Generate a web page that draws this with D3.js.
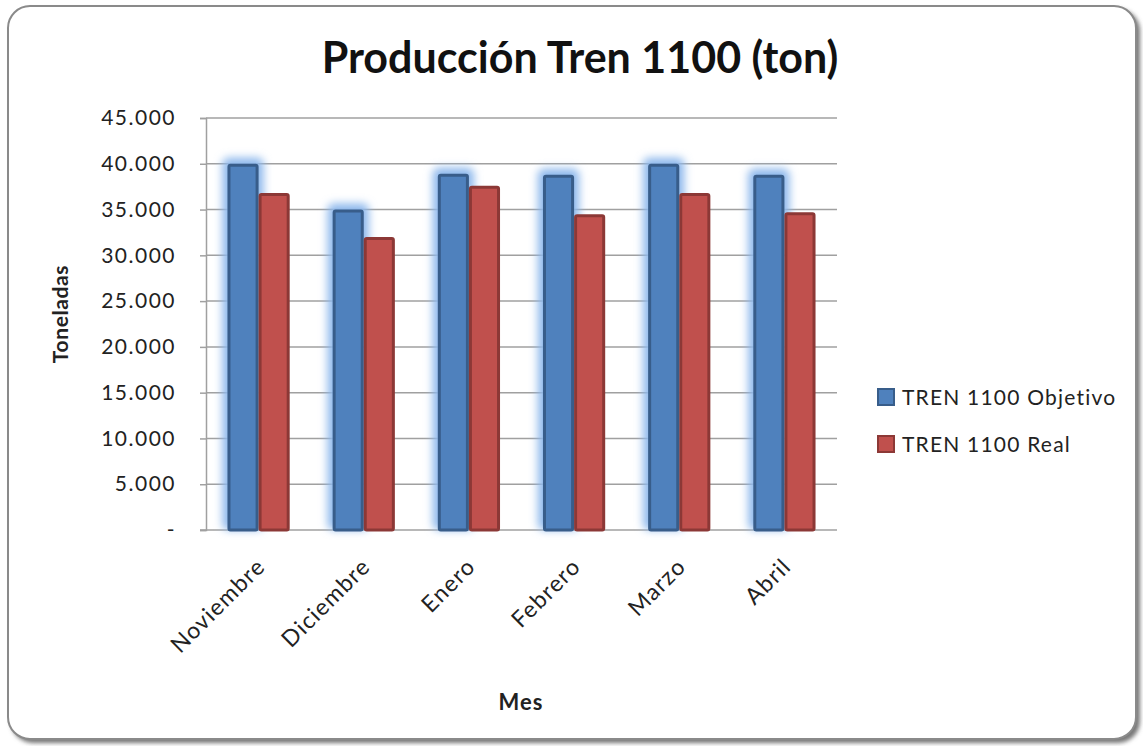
<!DOCTYPE html>
<html>
<head>
<meta charset="utf-8">
<script src="https://cdn.jsdelivr.net/npm/d3@7"></script>
<style>
  body { margin: 0; background: #fff; }
  text { font-family: Lato, "Open Sans", sans-serif; }
</style>
</head>
<body>
<svg id="chart"></svg>
<script>
const months = ["Noviembre", "Diciembre", "Enero", "Febrero", "Marzo", "Abril"];
const objetivo = [40000, 35000, 38900, 38800, 40000, 38800];
const real = [36800, 32000, 37600, 34500, 36800, 34700];
const seriesNames = ["TREN 1100 Objetivo", "TREN 1100 Real"];
const yTicks = [0, 5000, 10000, 15000, 20000, 25000, 30000, 35000, 40000, 45000];

const width = 1143, height = 746;
const plotL = 206, plotR = 837, plotT = 118, plotB = 530;

const svg = d3.select("#chart").attr("width", width).attr("height", height);

const defs = svg.append("defs");
const glow = defs.append("filter").attr("id", "glow")
  .attr("x", "-60%").attr("y", "-20%").attr("width", "220%").attr("height", "140%");
glow.append("feGaussianBlur").attr("stdDeviation", 4.5);
const shadow = defs.append("filter").attr("id", "shadow")
  .attr("x", "-5%").attr("y", "-5%").attr("width", "110%").attr("height", "110%");
shadow.append("feGaussianBlur").attr("stdDeviation", 2);

// chart frame
svg.append("rect")
  .attr("x", 11).attr("y", 9).attr("width", 1129).attr("height", 734)
  .attr("rx", 22).attr("fill", "#777").attr("filter", "url(#shadow)");
svg.append("rect")
  .attr("x", 8).attr("y", 6).attr("width", 1128).attr("height", 733)
  .attr("rx", 22).attr("fill", "#fff").attr("stroke", "#8a8a8a").attr("stroke-width", 2);

const locale = d3.formatLocale({decimal: ",", thousands: ".", grouping: [3], currency: ["", ""]});
const fmt = v => v === 0 ? "-" : locale.format(",")(v);

const x = d3.scaleBand().domain(months).range([plotL, plotR]).paddingInner(0).paddingOuter(0);
const x1 = d3.scaleBand().domain(seriesNames).range([0, x.bandwidth()]).paddingInner(0).paddingOuter(0.69);
const y = d3.scaleLinear().domain([0, 45000]).range([plotB, plotT]);

// gridlines
svg.append("g")
  .selectAll("line").data(yTicks.slice(1)).join("line")
  .attr("x1", plotL).attr("x2", plotR)
  .attr("y1", d => y(d)).attr("y2", d => y(d))
  .attr("stroke", "#a0a0a0").attr("stroke-width", 1.5);

// y axis
const yAxis = svg.append("g").attr("transform", `translate(${plotL},0)`)
  .call(d3.axisLeft(y).tickValues(yTicks).tickFormat(fmt).tickSize(6).tickPadding(24));
yAxis.select(".domain").attr("stroke", "#a0a0a0").attr("stroke-width", 1.5);
yAxis.selectAll(".tick line").attr("stroke", "#a0a0a0").attr("stroke-width", 1.5);
yAxis.selectAll(".tick text").attr("font-size", 21).attr("fill", "#222")
  .attr("letter-spacing", 1.5)
  .style("font-family", "Lato, sans-serif");

// x baseline
svg.append("line").attr("x1", plotL - 6).attr("x2", plotR).attr("y1", plotB).attr("y2", plotB)
  .attr("stroke", "#a0a0a0").attr("stroke-width", 1.5);

const data = months.map((m, i) => ({m, vals: [objetivo[i], real[i]]}));
const fills = ["#4F81BD", "#C0504D"];
const strokes = ["#385D8A", "#8C3836"];

const groups = svg.append("g").selectAll("g").data(data).join("g")
  .attr("transform", d => `translate(${x(d.m)},0)`);

// glow behind objetivo bars
groups.append("rect")
  .attr("x", x1(seriesNames[0]) - 5)
  .attr("y", d => y(d.vals[0]) - 6)
  .attr("width", x1.bandwidth() + 10)
  .attr("height", d => plotB - y(d.vals[0]) + 6)
  .attr("rx", 6)
  .attr("fill", "#8DB8EC").attr("filter", "url(#glow)");

seriesNames.forEach((s, k) => {
  groups.append("rect")
    .attr("x", x1(s) + 1.5)
    .attr("y", d => y(d.vals[k]) + 1.5)
    .attr("width", x1.bandwidth() - 3)
    .attr("height", d => plotB - y(d.vals[k]) - 1.5)
    .attr("rx", 1.5)
    .attr("fill", fills[k]).attr("stroke", strokes[k]).attr("stroke-width", 3);
});

// x labels
svg.append("g").selectAll("text").data(months).join("text")
  .attr("transform", d => `translate(${x(d) + x.bandwidth() / 2 + 8},${plotB + 38}) rotate(-45)`)
  .attr("text-anchor", "end")
  .attr("font-size", 23).attr("letter-spacing", 1.2).attr("fill", "#222")
  .text(d => d);

// titles
svg.append("text").attr("x", 580).attr("y", 73).attr("text-anchor", "middle")
  .attr("font-size", 43).attr("font-weight", "bold").attr("fill", "#111")
  .text("Producción Tren 1100 (ton)");
svg.append("text").attr("x", 521).attr("y", 710).attr("text-anchor", "middle")
  .attr("font-size", 22).attr("letter-spacing", 1).attr("font-weight", "bold").attr("fill", "#222").text("Mes");
svg.append("text").attr("transform", "translate(68,314) rotate(-90)").attr("text-anchor", "middle")
  .attr("font-size", 21).attr("letter-spacing", 0.6).attr("font-weight", "bold").attr("fill", "#222").text("Toneladas");

// legend
const legend = svg.append("g").selectAll("g").data(seriesNames).join("g")
  .attr("transform", (d, i) => `translate(877,${388 + i * 47})`);
legend.append("rect").attr("x", 1).attr("y", 1).attr("width", 16).attr("height", 16)
  .attr("fill", (d, i) => fills[i]).attr("stroke", (d, i) => strokes[i]).attr("stroke-width", 2);
legend.append("text").attr("x", 25).attr("y", 17).attr("font-size", 21).attr("letter-spacing", 1.2).attr("fill", "#222")
  .text(d => d);
</script>
</body>
</html>
